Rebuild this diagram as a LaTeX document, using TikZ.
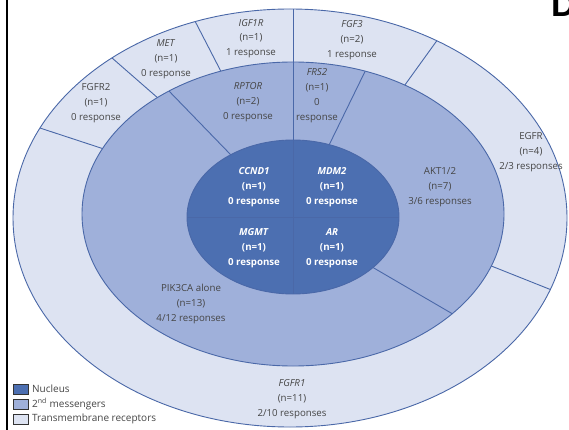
\documentclass[tikz,border=0pt]{standalone}
\usepackage{fontspec}
\setmainfont{Open Sans}
\newfontfamily\headfont{Liberation Sans}

\definecolor{ringout}{HTML}{DDE3F2}
\definecolor{ringmid}{HTML}{9FB0DA}
\definecolor{ringin}{HTML}{4C6FB1}
\definecolor{edgeblue}{HTML}{4A68A8}
\definecolor{labelgray}{HTML}{454545}

\tikzset{
  ringedge/.style={draw=edgeblue, line width=0.9pt},
  divider/.style={draw=edgeblue, line width=0.9pt},
  lbl/.style={font=\fontsize{9.7}{14.8}\selectfont, text=labelgray, align=center, inner sep=0pt},
  corelbl/.style={font=\fontsize{9.7}{14.8}\selectfont\bfseries, text=white, align=center, inner sep=0pt},
  keybox/.style={draw=black!80, line width=0.7pt},
  keytext/.style={font=\fontsize{10}{11}\selectfont, text=labelgray, anchor=west, inner sep=0pt}
}

\begin{document}
\begin{tikzpicture}[x=1pt, y=-1pt]
\useasboundingbox (0,0) rectangle (569,430);
\fill[white] (0,0) rectangle (569,430);

% panel frame on the left and the panel letter
\draw[black, line width=2pt] (7,0) -- (7,430);
\node[anchor=base west, font=\fontsize{34}{34}\selectfont\headfont\bfseries, inner sep=0pt] (panel) at (551,17) {D};

% three nested rings
\draw[ringedge, fill=ringout] (290,218) ellipse [x radius=277pt, y radius=209pt];
\draw[ringedge, fill=ringmid] (293,214) ellipse [x radius=211pt, y radius=152pt];
\draw[ringedge, fill=ringin]  (293,217) ellipse [x radius=106pt, y radius=77pt];

% outer ring dividers (same parametric angle on both ellipses)
\foreach \t in {154.5,130,110,58,-20}{
  \draw[divider] ({290+277*cos(\t)},{218-209*sin(\t)}) -- ({293+211*cos(\t)},{214-152*sin(\t)});
}
\draw[divider] (293,9) -- (293,62);

% middle ring dividers
\foreach \t in {126,70,-41}{
  \draw[divider] ({293+211*cos(\t)},{214-152*sin(\t)}) -- ({293+106*cos(\t)},{217-77*sin(\t)});
}
\draw[divider] (293,62) -- (293,140);

% core quadrants
\draw[divider] (293,140) -- (293,294);
\draw[divider] (187,217) -- (399,217);

% transmembrane receptors
\node[lbl] (fgfrtwo) at (96,103) {FGFR2\\(n=1)\\0 response};
\node[lbl] (met) at (166,59) {\textit{MET}\\(n=1)\\0 response};
\node[lbl] (igf) at (251,38.5) {\textit{IGF1R}\\(n=1)\\1 response};
\node[lbl] (fgfthree) at (352,40) {\textit{FGF3}\\(n=2)\\1 response};
\node[lbl] (egfr) at (531,152) {EGFR\\(n=4)\\2/3 responses};
\node[lbl] (fgfrone) at (292,399) {\textit{FGFR1}\\(n=11)\\2/10 responses};

% second messengers
\node[lbl] (rptor) at (248,102) {\textit{RPTOR}\\(n=2)\\0 response};
\node[lbl] (frs) at (317,95.5) {\textit{FRS2}\\(n=1)\\0\\response};
\node[lbl] (akt) at (440,187) {AKT1/2\\(n=7)\\3/6 responses};
\node[lbl] (pik) at (191,304) {PIK3CA alone\\(n=13)\\4/12 responses};

% nucleus
\node[corelbl] (ccnd) at (254,187) {\textit{CCND1}\\(n=1)\\0 response};
\node[corelbl] (mdm) at (332,187) {\textit{MDM2}\\(n=1)\\0 response};
\node[corelbl] (mgmt) at (254,248) {\textit{MGMT}\\(n=1)\\0 response};
\node[corelbl] (ar) at (332,248) {\textit{AR}\\(n=1)\\0 response};

% legend
\draw[keybox, fill=ringin]  (13,384) rectangle (28,394);
\draw[keybox, fill=ringmid] (13,399) rectangle (28,409);
\draw[keybox, fill=ringout] (13,414) rectangle (28,424);
\node[keytext] (keynuc) at (32,389) {Nucleus};
\node[keytext] (keymsg) at (32,404) {2\textsuperscript{nd} messengers};
\node[keytext] (keyrec) at (32,419) {Transmembrane receptors};
\end{tikzpicture}
\end{document}
